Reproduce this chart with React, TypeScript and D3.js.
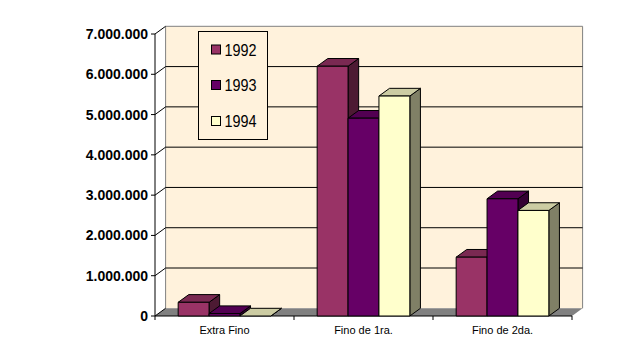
import * as d3 from "d3";

// categories and yearly values
const categories = ["Extra Fino", "Fino de 1ra.", "Fino de 2da."];
const years = ["1992", "1993", "1994"];
const values1992 = [340000, 6200000, 1460000];
const values1993 = [60000, 4910000, 2910000];
const values1994 = [0, 5460000, 2620000];
const yTicks = [0, 1000000, 2000000, 3000000, 4000000, 5000000, 6000000, 7000000];

const series = [values1992, values1993, values1994];

// front, top, side faces per series
const colors = [
  { front: "#993366", top: "#7a2952", side: "#4d1a33" },
  { front: "#660066", top: "#520052", side: "#330033" },
  { front: "#ffffcc", top: "#cccca3", side: "#808066" },
];

const width = 644;
const height = 363;
const left = 155;
const right = 572;
const bottom = 316;
const top = 34;
const dx = 10.6;
const dy = 7.7;

const locale = d3.formatLocale({ decimal: ",", thousands: ".", grouping: [3], currency: ["", ""] });
const fmt = locale.format(",d");

export default function App() {
  const x = d3.scaleBand<string>().domain(categories).range([left, right]).padding(0);
  const xInner = d3
    .scaleBand<string>()
    .domain(years)
    .range([0, x.bandwidth()])
    .paddingInner(0)
    .paddingOuter(0.75);
  const y = d3.scaleLinear().domain([0, 7000000]).range([bottom, top]);

  const wallColor = "#fff2dc";
  const font = "'Liberation Sans', Arial, sans-serif";

  return (
    <svg
      width={width}
      height={height}
      style={{ position: "absolute", left: 0, top: 0, background: "#fff" }}
    >
      {/* back wall */}
      <rect
        x={left + dx}
        y={y(7000000) - dy}
        width={right - left}
        height={bottom - top}
        fill={wallColor}
      />
      <path
        d={`M${left + dx},${bottom - dy}V${top - dy}H${right + dx}V${bottom - dy}`}
        fill="none"
        stroke="#808080"
      />

      {/* floor */}
      <polygon
        points={`${left},${bottom} ${right},${bottom} ${right + dx},${bottom - dy} ${left + dx},${bottom - dy}`}
        fill="#808080"
      />

      {/* gridlines on back wall and side wall */}
      {yTicks.map((t) => (
        <g key={t}>
          {t > 0 && t < 7000000 && (
            <line
              x1={left + dx}
              x2={right + dx}
              y1={y(t) - dy}
              y2={y(t) - dy}
              stroke="#000"
            />
          )}
          <line x1={left} x2={left + dx} y1={y(t)} y2={y(t) - dy} stroke="#000" />
          <line x1={left - 4} x2={left} y1={y(t)} y2={y(t)} stroke="#000" />
          <text
            x={148}
            y={y(t)}
            dy="0.36em"
            textAnchor="end"
            fontFamily={font}
            fontWeight={700}
            fontSize={14}
            fill="#000"
          >
            {fmt(t)}
          </text>
        </g>
      ))}

      {/* axes */}
      <line x1={left} x2={left} y1={top} y2={bottom} stroke="#000" />
      <line x1={left} x2={right} y1={bottom} y2={bottom} stroke="#000" />
      {[...categories.map((c) => x(c) ?? 0), right].map((px, i) => (
        <line key={i} x1={px} x2={px} y1={bottom} y2={bottom + 4} stroke="#000" />
      ))}
      {categories.map((c) => (
        <text
          key={c}
          x={(x(c) ?? 0) + x.bandwidth() / 2}
          y={334}
          textAnchor="middle"
          fontFamily={font}
          fontSize={11}
          fill="#000"
        >
          {c}
        </text>
      ))}

      {/* 3D bars */}
      {categories.map((c, ci) =>
        years.map((yr, si) => {
          const v = series[si][ci];
          const x0 = (x(c) ?? 0) + (xInner(yr) ?? 0);
          const w = xInner.bandwidth();
          const y0 = y(v);
          const col = colors[si];
          return (
            <g key={c + yr} stroke="#000" strokeWidth={1} strokeLinejoin="round">
              <polygon
                points={`${x0 + w},${y0} ${x0 + w + dx},${y0 - dy} ${x0 + w + dx},${bottom - dy} ${x0 + w},${bottom}`}
                fill={col.side}
              />
              <polygon
                points={`${x0},${y0} ${x0 + dx},${y0 - dy} ${x0 + w + dx},${y0 - dy} ${x0 + w},${y0}`}
                fill={col.top}
              />
              {v > 0 && <rect x={x0} y={y0} width={w} height={bottom - y0} fill={col.front} />}
            </g>
          );
        })
      )}

      {/* legend */}
      <rect x={198.5} y={31.5} width={69} height={108} fill={wallColor} stroke="#000" />
      {years.map((yr, i) => {
        const cy = [49.5, 85, 121][i];
        return (
          <g key={yr}>
            <rect
              x={211.5}
              y={cy - 4.5}
              width={9}
              height={9}
              fill={colors[i].front}
              stroke="#000"
            />
            <text
              x={224.5}
              y={cy + 6}
              fontFamily={font}
              fontSize={16}
              textLength={32}
              lengthAdjust="spacingAndGlyphs"
              fill="#000"
            >
              {yr}
            </text>
          </g>
        );
      })}
    </svg>
  );
}
